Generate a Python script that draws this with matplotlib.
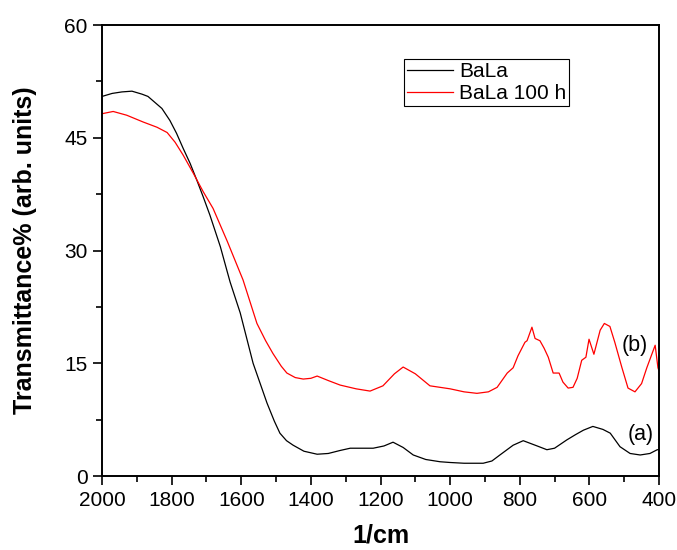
import matplotlib
matplotlib.use("Agg")
import matplotlib.pyplot as plt
from matplotlib.ticker import MultipleLocator

plt.rcParams["font.family"] = ["Liberation Sans", "DejaVu Sans"]

# BaLa (a) - wavenumber / transmittance
wn_a = [2000, 1971, 1943, 1914, 1885, 1868, 1848, 1828, 1805, 1786, 1767, 1747,
        1728, 1709, 1690, 1660, 1641, 1632, 1603, 1566, 1526, 1505, 1489, 1470,
        1451, 1420, 1382, 1350, 1316, 1287, 1250, 1221, 1190, 1164, 1135, 1106,
        1070, 1029, 1000, 960, 934, 905, 880, 857, 819, 790, 750, 722, 700, 665,
        640, 617, 590, 561, 540, 512, 483, 454, 426, 405, 400]
t_a = [50.5, 50.9, 51.1, 51.2, 50.8, 50.5, 49.7, 48.9, 47.3, 45.6, 43.6, 41.6,
       39.4, 37.1, 34.7, 30.5, 27.3, 25.8, 21.7, 15.0, 9.7, 7.3, 5.7, 4.7,
       4.1, 3.3, 2.9, 3.0, 3.4, 3.7, 3.7, 3.7, 4.0, 4.5, 3.8, 2.8,
       2.2, 1.9, 1.8, 1.7, 1.7, 1.7, 2.0, 2.8, 4.1, 4.7, 4.0, 3.5, 3.7, 4.8,
       5.5, 6.1, 6.6, 6.2, 5.7, 3.9, 3.0, 2.8, 3.0, 3.5, 3.5]

# BaLa 100 h (b)
wn_b = [2000, 1968, 1929, 1882, 1842, 1813, 1790, 1767, 1738, 1709, 1681, 1640,
        1603, 1595, 1555, 1530, 1509, 1485, 1469, 1445, 1422, 1400, 1382, 1350,
        1316, 1270, 1230, 1193, 1160, 1135, 1100, 1058, 1000, 960, 923, 890, 865,
        836, 819, 805, 785, 779, 765, 756, 742, 730, 718, 704, 687, 676, 661,
        647, 635, 622, 610, 601, 587, 569, 557, 541, 527, 507, 489, 469, 450,
        435, 411, 403, 400]
t_b = [48.2, 48.5, 48.0, 47.1, 46.4, 45.7, 44.4, 42.7, 40.3, 37.8, 35.6, 31.2,
       27.0, 26.1, 20.3, 18.0, 16.3, 14.6, 13.7, 13.1, 12.9, 13.0, 13.3, 12.7,
       12.1, 11.6, 11.3, 12.0, 13.6, 14.5, 13.6, 12.0, 11.6, 11.2, 11.0, 11.2, 11.8,
       13.7, 14.4, 16.0, 17.8, 18.0, 19.8, 18.3, 18.0, 17.0, 15.8, 13.7, 13.7, 12.5,
       11.7, 11.8, 13.0, 15.4, 15.8, 18.2, 16.2, 19.4, 20.3, 19.9, 17.8, 14.5, 11.7,
       11.2, 12.3, 14.4, 17.4, 14.4, 14.0]

fig = plt.figure(figsize=(6.77, 5.5), dpi=100)
ax = fig.add_axes([0.1507, 0.1345, 0.8227, 0.82])

ax.plot(wn_a, t_a, color="black", lw=0.9, label="BaLa")
ax.plot(wn_b, t_b, color="red", lw=0.9, label="BaLa 100 h")

ax.set_xlim(2000, 400)
ax.set_ylim(0, 60)
ax.xaxis.set_major_locator(MultipleLocator(200))
ax.xaxis.set_minor_locator(MultipleLocator(100))
ax.yaxis.set_major_locator(MultipleLocator(15))
ax.yaxis.set_minor_locator(MultipleLocator(7.5))
ax.tick_params(which="major", direction="out", length=6.5, width=1.2,
               labelsize=15, pad=4)
ax.tick_params(which="minor", direction="out", length=4, width=1.2)
for s in ax.spines.values():
    s.set_linewidth(1.4)

ax.set_xlabel("1/cm", fontsize=18, fontweight="bold")
ax.set_ylabel("Transmittance% (arb. units)", fontsize=18, fontweight="bold")
ax.xaxis.set_label_coords(0.5, -0.105)
ax.yaxis.set_label_coords(-0.117, 0.5)

ax.text(469, 17.4, "(b)", fontsize=15.5, ha="center", va="center")
ax.text(454, 5.5, "(a)", fontsize=15.5, ha="center", va="center")

leg = ax.legend(loc="upper left", bbox_to_anchor=(0.542, 0.925), fontsize=15,
                frameon=True, fancybox=False, edgecolor="black", framealpha=1,
                borderpad=0.15, labelspacing=0.15, handlelength=2.2,
                handletextpad=0.3, borderaxespad=0)
leg.get_frame().set_linewidth(0.8)

fig.savefig("out.png", dpi=100)
